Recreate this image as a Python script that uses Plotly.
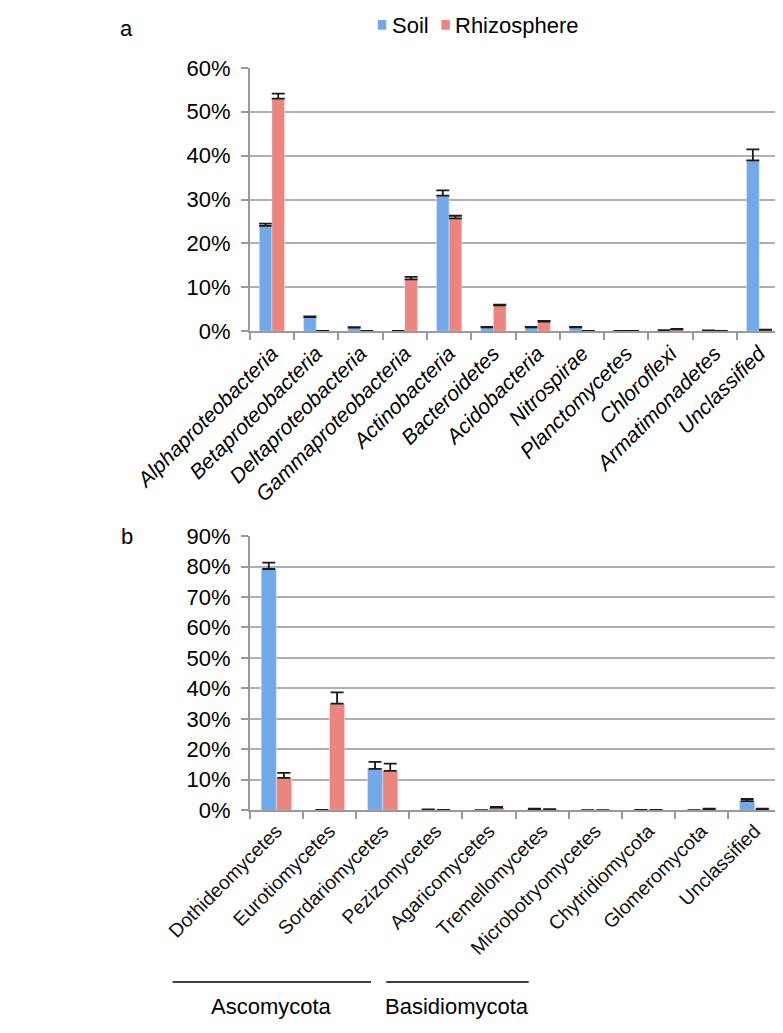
import plotly.graph_objects as go

# ---- Panel a: bacteria ----
bact_cats = ["Alphaproteobacteria", "Betaproteobacteria", "Deltaproteobacteria",
             "Gammaproteobacteria", "Actinobacteria", "Bacteroidetes", "Acidobacteria",
             "Nitrospirae", "Planctomycetes", "Chloroflexi", "Armatimonadetes", "Unclassified"]
bact_soil = [24.0, 3.2, 0.8, 0.05, 30.9, 0.9, 0.9, 0.9, 0.1, 0.2, 0.15, 38.9]
bact_soil_err = [0.5, 0.2, 0.15, None, 1.2, 0.1, 0.1, 0.1, 0.0, 0.05, 0.05, 2.5]
bact_rhizo = [53.0, 0.05, 0.05, 11.8, 25.7, 5.9, 2.2, 0.05, 0.1, 0.4, 0.1, 0.3]
bact_rhizo_err = [1.1, None, None, 0.6, 0.6, 0.15, 0.15, None, 0.0, 0.1, None, 0.05]

# ---- Panel b: fungi ----
fung_cats = ["Dothideomycetes", "Eurotiomycetes", "Sordariomycetes", "Pezizomycetes",
             "Agaricomycetes", "Tremellomycetes", "Microbotryomycetes", "Chytridiomycota",
             "Glomeromycota", "Unclassified"]
fung_soil = [79.2, 0.1, 13.6, 0.2, 0.05, 0.4, 0.05, 0.1, 0.05, 3.0]
fung_soil_err = [2.1, None, 2.3, 0.05, None, 0.1, 0.0, None, None, 0.7]
fung_rhizo = [10.6, 35.0, 12.9, 0.1, 0.9, 0.3, 0.05, 0.15, 0.4, 0.4]
fung_rhizo_err = [1.7, 3.7, 2.4, 0.0, 0.2, 0.1, 0.0, 0.0, 0.1, 0.1]

series_names = ["Soil", "Rhizosphere"]
soil_color = "#72a9e8"
rhizo_color = "#ec857e"

# the page body has a default 8px margin, so the figure is drawn 8px smaller
# and every position is measured in page pixels minus that offset
OFF = 8
W, H = 783 - OFF, 1033 - OFF


def px(x):
    return (x - OFF) / W


def py(y):
    return 1 - (y - OFF) / H


def err(arr):
    return dict(type="data", array=arr, arrayminus=[0] * len(arr), symmetric=False,
                color="#1a1a1a", thickness=1.8, width=6.5, visible=True)


fig = go.Figure()
fig.add_trace(go.Bar(x=bact_cats, y=bact_soil, name=series_names[0], marker_color=soil_color,
                     error_y=err(bact_soil_err), xaxis="x", yaxis="y"))
fig.add_trace(go.Bar(x=bact_cats, y=bact_rhizo, name=series_names[1], marker_color=rhizo_color,
                     error_y=err(bact_rhizo_err), xaxis="x", yaxis="y"))
fig.add_trace(go.Bar(x=fung_cats, y=fung_soil, name=series_names[0], marker_color=soil_color,
                     error_y=err(fung_soil_err), xaxis="x2", yaxis="y2"))
fig.add_trace(go.Bar(x=fung_cats, y=fung_rhizo, name=series_names[1], marker_color=rhizo_color,
                     error_y=err(fung_rhizo_err), xaxis="x2", yaxis="y2"))

grid = "#b0b0b0"
axc = "#9a9a9a"
fam = "Liberation Sans, Arial, sans-serif"

xdom = [px(154), px(781)]


def ycommon(rng, dom):
    return dict(range=rng, domain=dom, dtick=10, ticksuffix="%", showgrid=True,
                gridcolor=grid, gridwidth=1.5, showline=True, linecolor=axc, linewidth=1.5,
                ticks="outside", ticklen=7, tickcolor=axc, tickwidth=1.5,
                tickfont=dict(family=fam, size=22, color="black"), zeroline=False,
                ticklabelstandoff=6, fixedrange=True)


fig.update_layout(
    width=W, height=H, margin=dict(l=0, r=0, t=0, b=0),
    paper_bgcolor="white", plot_bgcolor="white",
    barmode="group", bargap=0.43, bargroupgap=0,
    showlegend=False,
    xaxis=dict(domain=xdom, anchor="y", showline=True, linecolor=axc, linewidth=1.5,
               ticks="outside", tickson="boundaries", ticklen=7, tickcolor=axc, tickwidth=1.5,
               tickangle=-45, tickfont=dict(family=fam, size=21, color="black", style="italic"),
               fixedrange=True),
    yaxis=ycommon([0, 60], [py(327), py(57)]),
    xaxis2=dict(domain=xdom, anchor="y2", showline=True, linecolor=axc, linewidth=1.5,
                ticks="outside", tickson="boundaries", ticklen=7, tickcolor=axc, tickwidth=1.5,
                tickangle=-45, tickfont=dict(family=fam, size=19.5, color="#111111"),
                fixedrange=True),
    yaxis2=ycommon([0, 90], [py(818), py(537)]),
)

# legend (drawn as keys + labels to match the compact spacing of the original)
legend_items = [(series_names[0], soil_color, 305), (series_names[1], rhizo_color, 380)]
for name, col, x0 in legend_items:
    fig.add_shape(type="rect", xref="paper", yref="paper", x0=px(x0), x1=px(x0 + 10),
                  y0=py(18), y1=py(8), fillcolor=col, line=dict(width=0))
    fig.add_annotation(text=name, x=px(x0 + 14), y=py(14), xref="paper", yref="paper",
                       showarrow=False, xanchor="left", yanchor="middle",
                       font=dict(family=fam, size=22, color="black"))

# panel letters
fig.add_annotation(text="a", x=px(9), y=py(17), xref="paper", yref="paper",
                   showarrow=False, font=dict(family=fam, size=22, color="black"),
                   xanchor="center", yanchor="middle")
fig.add_annotation(text="b", x=px(9), y=py(537), xref="paper", yref="paper",
                   showarrow=False, font=dict(family=fam, size=22, color="black"),
                   xanchor="center", yanchor="middle")

# phylum group lines and labels
groups = [("Ascomycota", 63, 297), ("Basidiomycota", 315, 483)]
for name, x0, x1 in groups:
    fig.add_shape(type="line", xref="paper", yref="paper", x0=px(x0), x1=px(x1),
                  y0=py(994), y1=py(994), line=dict(color="black", width=1.5))
    fig.add_annotation(text=name, x=px((x0 + x1) / 2), y=py(1019), xref="paper",
                       yref="paper", showarrow=False,
                       font=dict(family=fam, size=22, color="black"),
                       xanchor="center", yanchor="middle")

fig.write_html("out.html")
